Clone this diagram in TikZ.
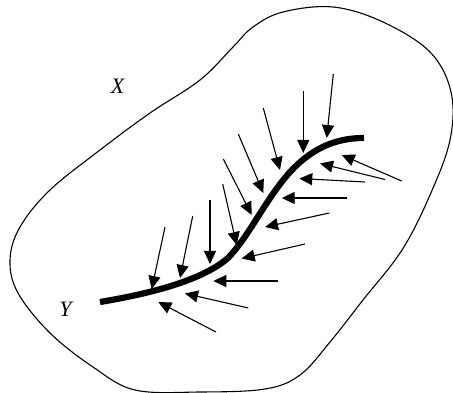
\documentclass[tikz,border=0pt]{standalone}
\usepackage{fontspec}
\setmainfont{Liberation Serif}
\usetikzlibrary{arrows.meta}
\begin{document}
\begin{tikzpicture}[x=1pt,y=-1pt,
  outline/.style={line width=1.1pt},
  fault/.style={line width=6.2pt},
  force/.style={line width=1.1pt,-{Triangle[length=13pt,width=12pt]}},
  lbl/.style={font=\itshape\fontsize{22}{22}\selectfont,inner sep=0pt}]
\useasboundingbox (0,0) rectangle (453,393);
% region boundary
\draw[outline] plot[smooth cycle,tension=0.6] coordinates {
 (283,12) (333,7) (383,22) (430,52) (451,92) (450,140) (430,195) (402,250)
 (363,300) (330,342) (300,375) (265,389) (200,392) (135,390) (93,367)
 (50,333) (18,293) (10,260) (20,227) (50,190) (100,150) (150,113)
 (200,80) (233,47) (253,27)};
% fault curve
\draw[fault] (100,302) .. controls (160,292) and (205,278) .. (228,258)
  .. controls (250,235) and (265,200) .. (290,172)
  .. controls (315,145) and (340,138) .. (364,138);
% arrows from above
\foreach \sx/\sy/\tx/\ty in {
 165/227/151.7/289, 192.7/216/180/278, 210/200/210/264, 222.7/184/236.7/245,
 223.3/159/251.7/215, 238.3/134/263.3/193, 263.3/108/280/170,
 303.3/91/303.3/153, 333.3/74/326.7/138}
 \draw[force] (\sx,\sy) -- (\tx,\ty);
% arrows from below right
\foreach \sx/\sy/\tx/\ty in {
 216/332/158.3/302, 248.3/308/185/293.5, 278.3/281/213.3/281, 305/244/241.7/258.5,
 329.3/213/265/227, 347.3/198/281.7/198, 365/182/299.3/178.5,
 385/179.5/320/163.5, 401.7/181/341.7/155}
 \draw[force] (\sx,\sy) -- (\tx,\ty);
\node[lbl] (X) at (117.5,86) {X};
\node[lbl] (Y) at (65.5,309) {Y};
\end{tikzpicture}
\end{document}
